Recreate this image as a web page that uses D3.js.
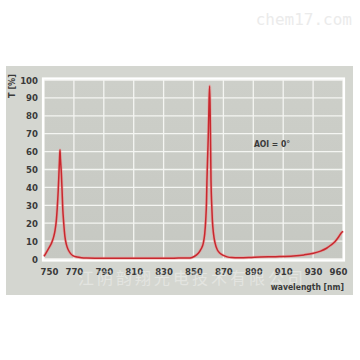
<!DOCTYPE html>
<html><head><meta charset="utf-8">
<script src="https://cdn.jsdelivr.net/npm/d3@7/dist/d3.min.js"></script>
<style>body{margin:0;background:#fff}svg{display:block}</style>
</head><body>
<script>
// Data
const wavelength = [750,751.8,753.5,755.1,756.5,757.4,758.3,758.9,759.5,760,760.4,760.7,761,761.6,762.1,762.5,763.2,764,765,766.3,767.8,769.6,772,775,778.5,785,795,805,815,825,835,840,844,847.7,850.5,853.2,855,856.6,857.5,858.2,858.7,859,859.5,860,860.4,860.8,861.2,861.7,862.2,862.6,863.4,864.4,866,867.7,870,872.5,875.6,880,887,894.5,905,916.8,924,930.2,935,939,942,944.6,946.8,948.7,950];
const transmission = [1.5,4,6.5,9,12.5,16,22,29,38,48,56,61,56,48,38,29,20,12.5,8,5,3,1.7,1.1,0.7,0.5,0.4,0.35,0.35,0.35,0.4,0.45,0.5,0.5,0.6,1.4,3.2,5.5,9,14,22,32,44,58,72,88,96.6,80,44,30,22,14,9,5,3.2,2,1.2,0.8,0.7,0.8,1.1,1.3,1.7,2.3,3.2,4.4,6,7.8,9.7,12,14.4,15.5];
const xTickValues = [750,770,790,810,830,850,870,890,910,930,950];
const xTickLabels = ["750","770","790","810","830","850","870","890","910","930","960"];
const yTickValues = [0,10,20,30,40,50,60,70,80,90,100];

const W = 360, H = 360;
const svg = d3.select("body").append("svg").attr("width", W).attr("height", H);

// watermark
svg.append("text").attr("x", 352).attr("y", 25).attr("text-anchor", "end")
  .attr("font-family", "DejaVu Sans Mono").attr("font-size", 16).attr("fill", "#ebebeb")
  .text("chem17.com");

// outer panel
svg.append("rect").attr("x", 6).attr("y", 66).attr("width", 347).attr("height", 229).attr("fill", "#d4d6d0");

const m = {l: 44, r: 343, t: 80, b: 259};
const x = d3.scaleLinear().domain([750, 950]).range([m.l, m.r]);
const y = d3.scaleLinear().domain([0, 100]).range([m.b, m.t]);

const defs = svg.append("defs");
const grad = defs.append("linearGradient").attr("id", "bg").attr("x1", 0).attr("y1", 0).attr("x2", 0).attr("y2", 1);
grad.append("stop").attr("offset", "0%").attr("stop-color", "#cdcfc9");
grad.append("stop").attr("offset", "100%").attr("stop-color", "#c6c8c2");

svg.append("rect").attr("x", m.l).attr("y", m.t).attr("width", m.r - m.l).attr("height", m.b - m.t)
  .attr("fill", "url(#bg)");

// grid
const g = svg.append("g");
g.selectAll("line.v").data(xTickValues).join("line")
  .attr("x1", d => x(d)).attr("x2", d => x(d)).attr("y1", m.t).attr("y2", m.b)
  .attr("stroke", "#f4f5f2").attr("stroke-width", 1.3);
g.selectAll("line.h").data(yTickValues).join("line")
  .attr("x1", m.l).attr("x2", m.r).attr("y1", d => y(d)).attr("y2", d => y(d))
  .attr("stroke", "#f4f5f2").attr("stroke-width", 1.3);
// white frame
svg.append("rect").attr("x", m.l - 1).attr("y", m.t - 1.5).attr("width", m.r - m.l + 2).attr("height", m.b - m.t + 3)
  .attr("fill", "none").attr("stroke", "#ffffff").attr("stroke-width", 2.2);

// axes labels
const font = "'Liberation Sans Narrow', 'DejaVu Sans Condensed', sans-serif";
const xAxis = d3.axisBottom(x).tickValues(xTickValues).tickSize(0).tickFormat((d, i) => xTickLabels[i]);
const xg = svg.append("g").attr("transform", `translate(0,${m.b + 4})`).call(xAxis);
xg.select(".domain").remove();
xg.selectAll("text").attr("font-family", font).attr("font-weight", "bold").attr("font-size", 9.5)
  .attr("fill", "#3a3a3a").attr("dy", "0.9em")
  .attr("dx", (d, i) => i === 0 ? 5 : (i === xTickValues.length - 1 ? -5 : 0));

const yAxis = d3.axisLeft(y).tickValues(yTickValues).tickSize(0);
const yg = svg.append("g").attr("transform", `translate(${m.l - 3},0)`).call(yAxis);
yg.select(".domain").remove();
yg.selectAll("text").attr("font-family", font).attr("font-weight", "bold").attr("font-size", 9.5)
  .attr("fill", "#3a3a3a");

svg.append("text").attr("transform", "translate(15,86) rotate(-90)").attr("text-anchor", "middle")
  .attr("font-family", font).attr("font-weight", "bold").attr("font-size", 9).attr("fill", "#3a3a3a")
  .text("T [%]");
svg.append("text").attr("x", 344).attr("y", 290).attr("text-anchor", "end")
  .attr("font-family", font).attr("font-weight", "bold").attr("font-size", 8.5).attr("fill", "#3a3a3a")
  .text("wavelength [nm]");
svg.append("text").attr("x", 272).attr("y", 147).attr("text-anchor", "middle")
  .attr("font-family", font).attr("font-weight", "bold").attr("font-size", 8.5).attr("fill", "#3a3a3a")
  .text("AOI = 0°");

// curve
const pts = wavelength.map((w, i) => [w, transmission[i]]);
const line = d3.line().x(d => x(d[0])).y(d => y(d[1])).curve(d3.curveMonotoneX);
svg.append("path").datum(pts).attr("d", line).attr("fill", "none")
  .attr("stroke", "#f08a8a").attr("stroke-width", 3).attr("opacity", 0.5);
svg.append("path").datum(pts).attr("d", line).attr("fill", "none")
  .attr("stroke", "#c8282e").attr("stroke-width", 1.5);

// faint watermark
svg.append("text").attr("x", 192).attr("y", 284).attr("text-anchor", "middle")
  .attr("font-family", "'Noto Sans CJK SC'").attr("font-size", 16).attr("fill", "#ffffff").attr("opacity", 0.35)
  .attr("letter-spacing", 3)
  .text("江阴韵翔光电技术有限公司");
</script>
</body></html>
